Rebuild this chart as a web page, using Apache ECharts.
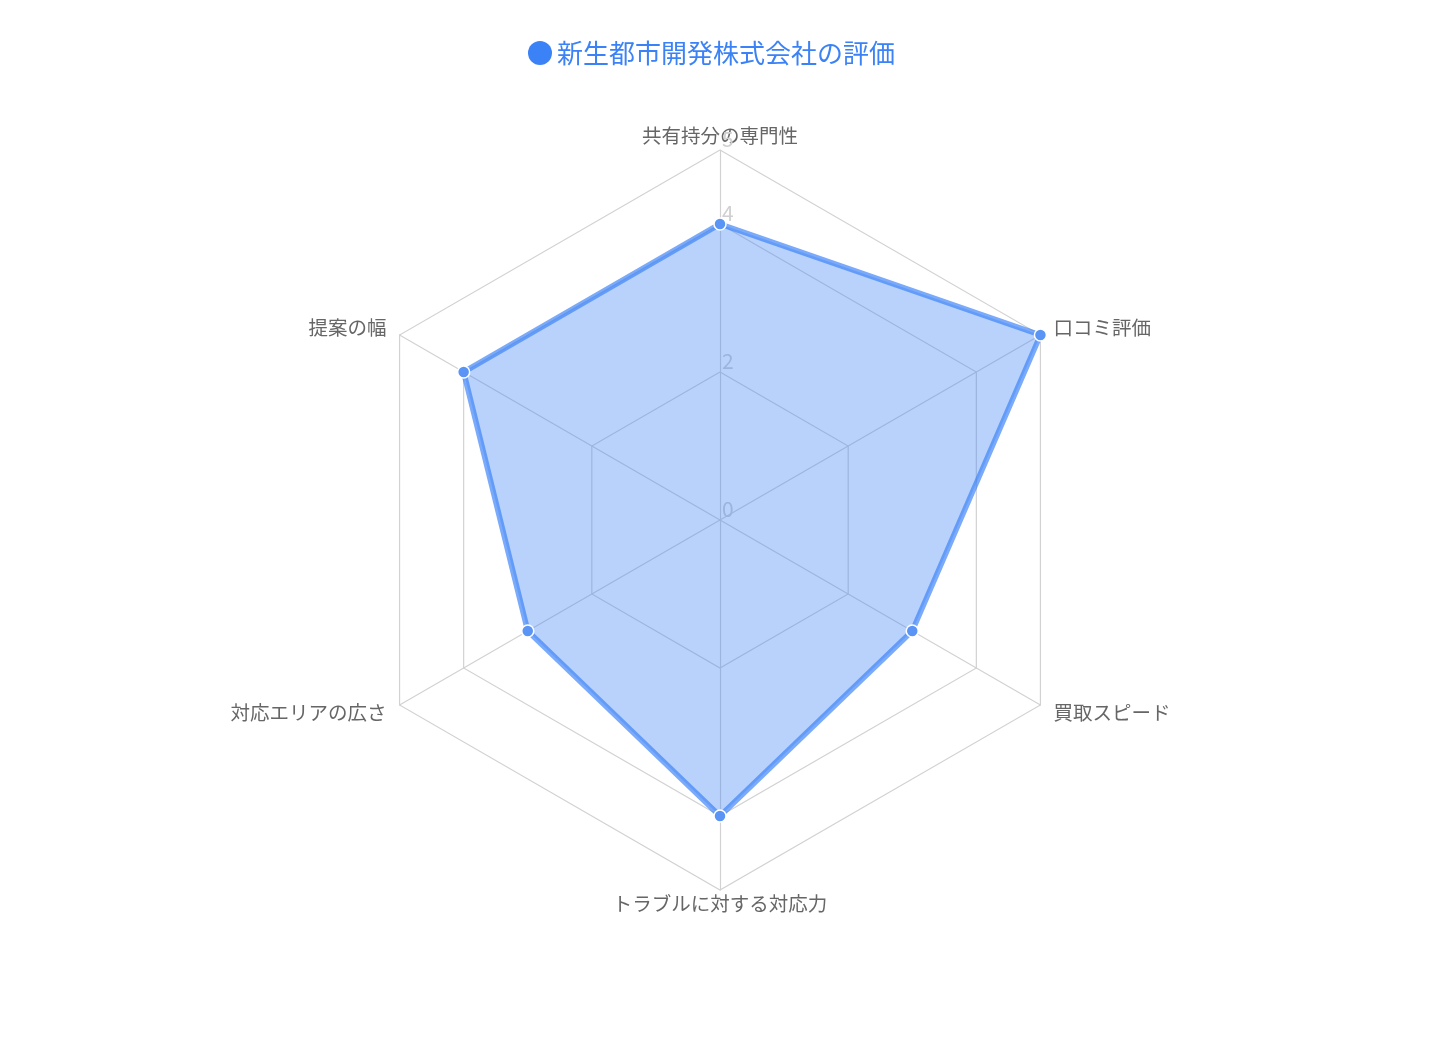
<!DOCTYPE html>
<html>
<head>
<meta charset="utf-8">
<script src="https://cdn.jsdelivr.net/npm/echarts@6/dist/echarts.min.js"></script>
<style>
  html, body { margin: 0; padding: 0; background: #fff; }
  #chart { width: 1440px; height: 1041px; }
</style>
</head>
<body>
<div id="chart"></div>
<script>
// clockwise from the top, as seen in the chart
const indicatorNames = ['共有持分の専門性', '口コミ評価', '買取スピード', 'トラブルに対する対応力', '対応エリアの広さ', '提案の幅'];
const scores = [4, 5, 3, 4, 3, 4];
const maxScore = 5;
const shownTicks = [0, 2, 4, 5];
const seriesName = '新生都市開発株式会社の評価';

const fontFamily = '"Noto Sans CJK JP", "Noto Sans", sans-serif';
const gridColor = '#d2d2d2';

// echarts lays radar indicators out counter-clockwise, so flip the order after the first
const order = [0].concat(indicatorNames.map((_, i) => i).slice(1).reverse());

let indicator = order.map((i, k) => {
  let vertical = (i === 0 || i === 3);
  let ind = {
    name: indicatorNames[i],
    min: 0,
    max: maxScore,
    nameGap: vertical ? (i === 0 ? 5 : 4) : 15,
    nameMoveOverlap: false
  };
  if (k === 0) {
    ind.axisLabel = {
      show: true,
      color: '#d0d0d0',
      fontSize: 21,
      fontFamily: fontFamily,
      margin: -2,
      align: 'left',
      verticalAlign: 'bottom',
      formatter: (v) => shownTicks.indexOf(+v) >= 0 ? String(v) : ''
    };
  }
  return ind;
});

let chart = echarts.init(document.getElementById('chart'));

chart.setOption({
  animation: false,
  legend: {
    top: 35,
    left: 523,
    icon: 'circle',
    itemWidth: 24,
    itemHeight: 24,
    itemGap: 6,
    itemStyle: { color: '#3b82f6', borderWidth: 0 },
    textStyle: { color: '#3b82f6', fontSize: 26, fontFamily: fontFamily },
    data: [seriesName]
  },
  radar: {
    center: [720, 520],
    radius: 370,
    splitNumber: 5,
    shape: 'polygon',
    nameMoveOverlap: false,
    axisName: { color: '#666', fontSize: 19.5, fontFamily: fontFamily },
    axisLine: { lineStyle: { color: gridColor, width: 1.2 } },
    splitLine: {
      lineStyle: {
        color: [gridColor, 'transparent', gridColor, 'transparent', gridColor, gridColor],
        width: 1.2
      }
    },
    splitArea: { show: false },
    axisLabel: { show: false },
    indicator: indicator
  },
  series: [{
    name: seriesName,
    type: 'radar',
    symbol: 'circle',
    symbolSize: 12,
    itemStyle: { color: '#5a94f5', borderColor: '#fff', borderWidth: 1.5 },
    lineStyle: { color: 'rgba(59,130,246,0.68)', width: 5.5 },
    areaStyle: { color: 'rgba(59,130,246,0.36)', opacity: 1 },
    data: [{ value: order.map(i => scores[i]), name: seriesName }]
  }]
});
</script>
</body>
</html>
